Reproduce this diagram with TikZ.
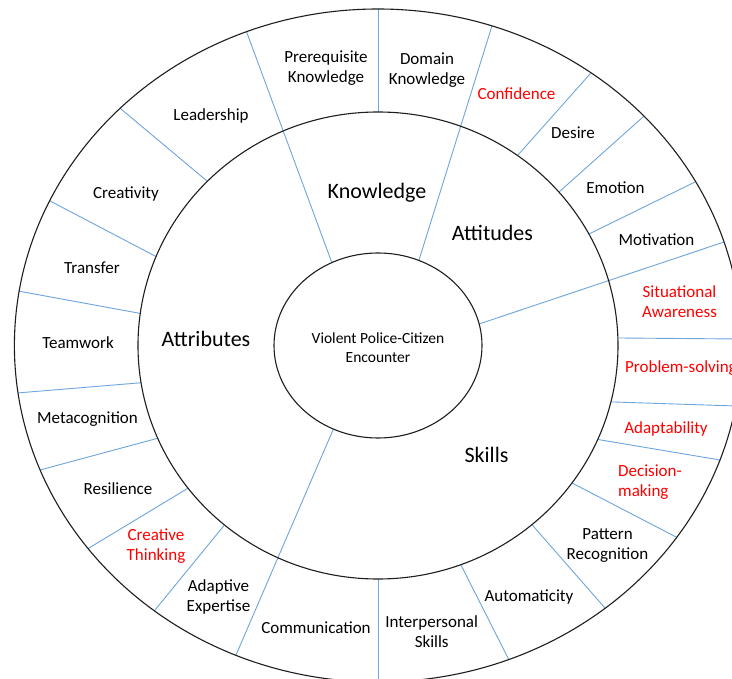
\documentclass[tikz,border=0pt]{standalone}
\usepackage{fontspec}
\setmainfont{Carlito}
\usetikzlibrary{calc}
\definecolor{spokeblue}{RGB}{110,165,220}
\definecolor{redtxt}{RGB}{255,0,0}
\definecolor{ringcol}{RGB}{30,30,30}
\begin{document}
\begin{tikzpicture}[x=1pt,y=-1pt,
  ring/.style={draw=ringcol, line width=1.1pt},
  spokeline/.style={draw=spokeblue, line width=0.9pt},
  lbl/.style={font=\fontsize{17}{20}\selectfont, align=center, inner sep=0pt, text=black, yshift=-1.5pt},
  hot/.style={lbl, text=redtxt},
  big/.style={font=\fontsize{22}{26}\selectfont, inner sep=0pt, yshift=-1pt},
  core/.style={font=\fontsize{15.5}{18.5}\selectfont, align=center, inner sep=0pt}]

\useasboundingbox (0,0) rectangle (732,679);
\clip (0,0) rectangle (732,679);
\fill[white] (0,0) rectangle (732,679);
\coordinate (O) at (378,345.5);

\begin{scope}
  \clip (O) ellipse [x radius=363.6, y radius=336.5];
  % spokes of the outer ring
  \foreach \px/\py/\qx/\qy in {
      378/5/378/112,
      590/74/518/155,
      643/117/559/192,
      695/182/591/233,
      741/339/619/338,
      736/406/614/402,
      720/460/601/440,
      678/538/574/484,
      605/608/534/527,
      509/660/463/569,
      378/684/378/579,
      155/610/222/528,
      89/548/185/490,
      40/470/155/439,
      17/393/138/383,
      18/291/138/313,
      52/202/155/256,
      121/109/207/181}{
    \draw[spokeline] ($(\qx,\qy)!1.15!(\px,\py)$) -- ($(\px,\py)!1.15!(\qx,\qy)$);
  }
  \fill[white] (O) ellipse [x radius=240, y radius=233.5];
  % sector boundaries
  \foreach \px/\py/\qx/\qy in {
      247/33/332/263,
      491/29/419/260,
      724/242/479/324,
      236/655/333/430}{
    \draw[spokeline] ($(\qx,\qy)!1.08!(\px,\py)$) -- ($(\px,\py)!1.06!(\qx,\qy)$);
  }
  \fill[white] (O) ellipse [x radius=104, y radius=92.5];
\end{scope}

\draw[ring] (O) ellipse [x radius=363.6, y radius=336.5];
\draw[ring] (O) ellipse [x radius=240, y radius=233.5];
\draw[ring] (O) ellipse [x radius=104, y radius=92.5];

% centre
\node[core] (centre) at (378,347.5) {Violent Police-Citizen\\Encounter};

% sectors
\node[big] (know) at (377,192) {Knowledge};
\node[big] (att) at (492.5,231.7) {Attitudes};
\node[big] (attr) at (206,338) {Attributes};
\node[big] (skills) at (486.5,454.3) {Skills};

% outer ring labels
\node[lbl] (prereq) at (326,67) {Prerequisite\\Knowledge};
\node[lbl] (domain) at (427,68.5) {Domain\\Knowledge};
\node[hot] (conf) at (516.5,92) {Confidence};
\node[lbl] (desire) at (573,131.7) {Desire};
\node[lbl] (emotion) at (615.5,185.7) {Emotion};
\node[lbl] (motiv) at (656.5,237.7) {Motivation};
\node[hot] (sitaw) at (679.5,300.3) {Situational\\Awareness};
\node[hot, anchor=west] (probsolv) at (625,366.7) {Problem-solving};
\node[hot] (adapt) at (666,427.3) {Adaptability};
\node[hot, anchor=west, align=left] (decis) at (618,481) {Decision-\\making};
\node[lbl] (pattern) at (607.5,544) {Pattern\\Recognition};
\node[lbl] (auto) at (529,595.7) {Automaticity};
\node[lbl] (interp) at (431.7,630) {Interpersonal\\Skills};
\node[lbl] (comm) at (316,625.7) {Communication};
\node[lbl] (adexp) at (218.5,595) {Adaptive\\Expertise};
\node[hot] (crthink) at (156,545) {Creative\\Thinking};
\node[lbl] (resil) at (118,486.7) {Resilience};
\node[lbl] (meta) at (87.5,418) {Metacognition};
\node[lbl] (team) at (78,341) {Teamwork};
\node[lbl] (transfer) at (92,266.7) {Transfer};
\node[lbl] (creat) at (126,192.3) {Creativity};
\node[lbl] (lead) at (211,114.3) {Leadership};
\end{tikzpicture}
\end{document}
